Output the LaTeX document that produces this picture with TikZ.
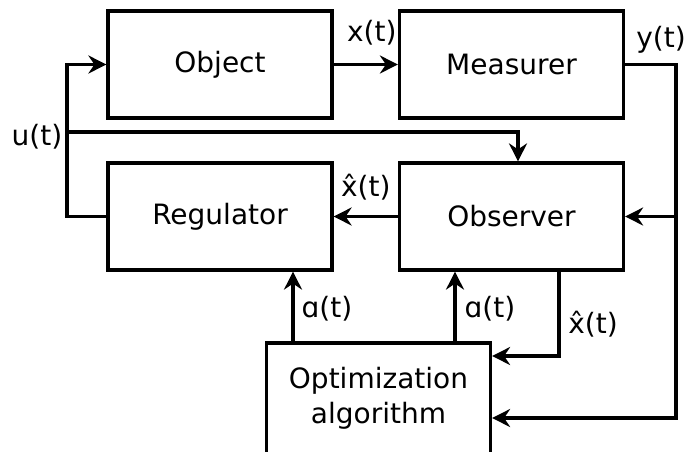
\documentclass[tikz,border=0pt]{standalone}
\usepackage{fontspec}
\setmainfont{DejaVu Sans}
\usetikzlibrary{arrows.meta}
\begin{document}
\begin{tikzpicture}[x=0.5pt,y=-0.5pt,line width=1.6pt,
  >={Stealth[length=9pt,width=9pt,inset=3pt]},
  font=\fontsize{14}{17.5}\selectfont]
\tikzstyle{block}=[draw, minimum width=112pt, minimum height=53.5pt, inner sep=0pt, align=center]
\tikzstyle{sig}=[inner sep=0pt, anchor=center]
\useasboundingbox (0,0) rectangle (685,451);

\node[block] (object) at (220,64.5) {Object};
\node[block] (measurer) at (511.5,64.5) {Measurer};
\node[block] (regulator) at (220,216.5) {Regulator};
\node[block] (observer) at (511.5,216.5) {Observer};
\node[block, minimum height=55.5pt] (optim) at (378.5,398.5) {Optimization\\algorithm};

\coordinate (ujoin) at (67,132);
\coordinate (ycorner) at (676,64.5);

% control signal
\draw[->] (regulator.west) -| (ujoin) |- (object.west);
\draw[->] (ujoin) -| ([xshift=3.25pt]observer.north)
  node[sig, pos=0, xshift=-15pt, yshift=-2.5pt] {u(t)};

% state and measurement
\draw[->] (object.east) -- (measurer.west)
  node[sig, midway, xshift=3pt, yshift=15.75pt] {x(t)};
\draw[->] (measurer.east) -- (ycorner)
  node[sig, pos=1, xshift=-7.5pt, yshift=12.25pt] {y(t)}
  |- ([yshift=-9.75pt]optim.east);
\draw[->] (ycorner |- observer.east) -- (observer.east);

% estimate
\draw[->] (observer.west) -- (regulator.east)
  node[sig, midway, yshift=14.75pt] {\^x(t)};
\draw[->] ([xshift=23.75pt]observer.south) |- ([yshift=21.25pt]optim.east)
  node[sig, pos=0.25, xshift=17pt, yshift=-5pt] {\^x(t)};

% parameters
\draw[->] ([xshift=-42.75pt]optim.north) coordinate (a1) -- (a1 |- regulator.south)
  node[sig, midway, xshift=17pt, yshift=-1.25pt] {ɑ(t)};
\draw[->] ([xshift=38.25pt]optim.north) coordinate (a2) -- (a2 |- observer.south)
  node[sig, midway, xshift=17.5pt, yshift=-1.25pt] {ɑ(t)};

\end{tikzpicture}
\end{document}
